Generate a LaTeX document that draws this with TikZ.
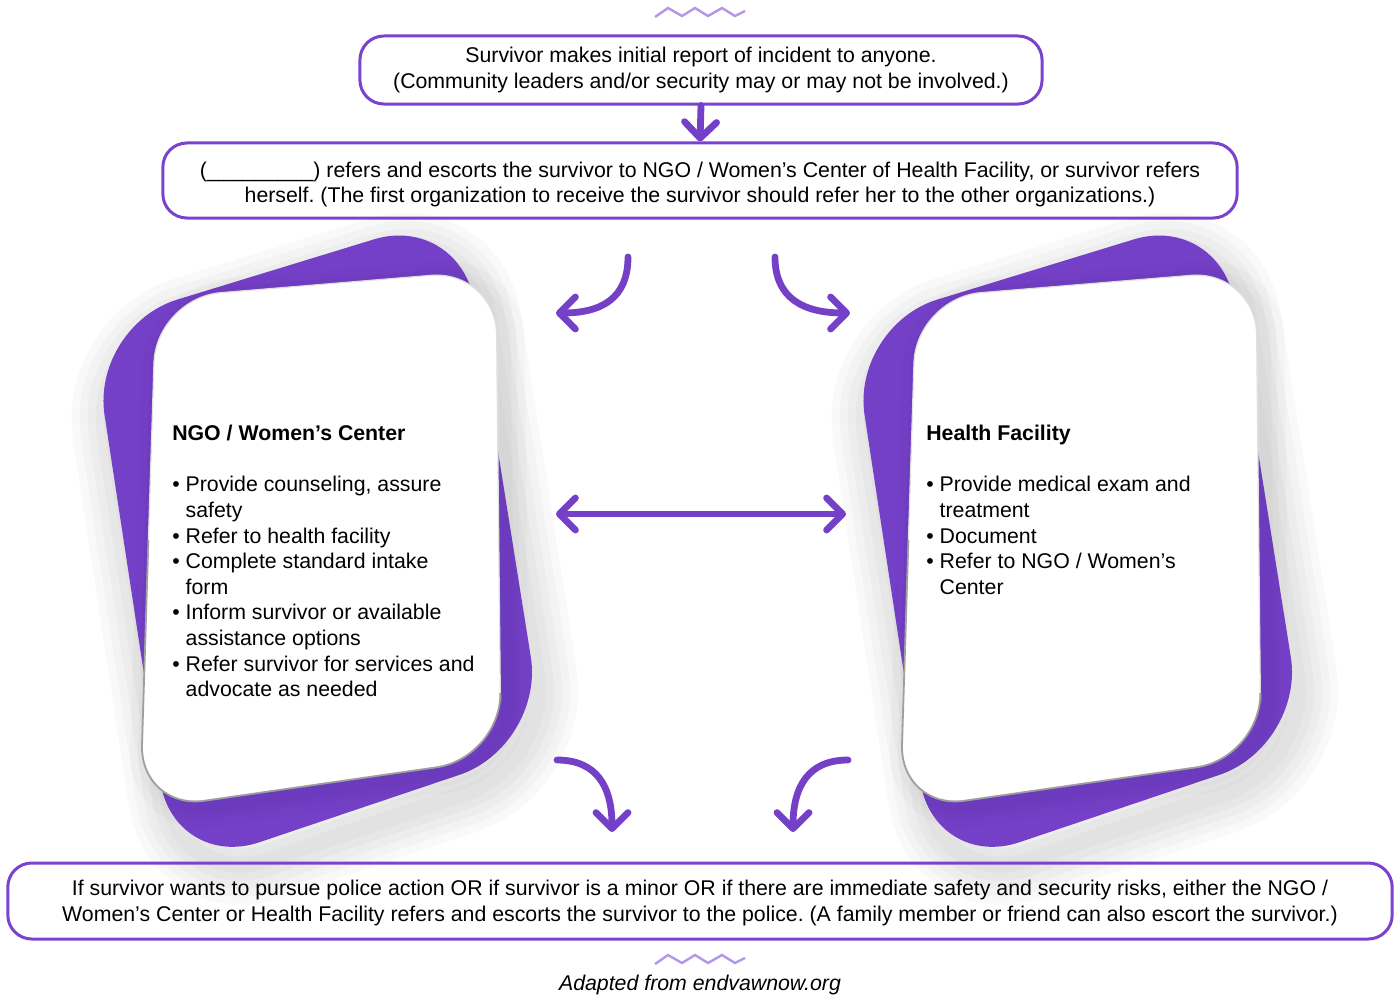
\documentclass[tikz,border=0pt]{standalone}
\usepackage{fontspec}
\setmainfont{Liberation Sans}
\usetikzlibrary{positioning, arrows.meta}
\frenchspacing

\definecolor{boxpurple}{HTML}{7A42CF}
\definecolor{cardpurple}{HTML}{7540C8}
\definecolor{wavepurple}{HTML}{B596E6}

\newcommand\bodyfont{\fontsize{15.15}{18.2}\selectfont}

\tikzset{
  flowbox/.style={draw=boxpurple, line width=0.075cm, rounded corners=0.6cm, inner sep=0pt},
  boxtext/.style={align=center, inner sep=0pt, font=\bodyfont},
  flowarrow/.style={draw=cardpurple, line width=0.17cm, line cap=round, line join=round},
  wave/.style={draw=wavepurple, line width=0.06cm},
  cardtext/.style={align=left, anchor=north west, inner sep=0pt, font=\bodyfont},
  >={Straight Barb[length=0.4cm, width=0.8cm, round]}
}

\begin{document}
\begin{tikzpicture}[x=0.025cm, y=-0.025cm]
  \useasboundingbox (0,0) rectangle (1400,994);

  % cards (purple back, white front)
  \foreach \dx in {0,760} {
    \begin{scope}[shift={(\dx,0)}]
      \foreach \w in {2.0,1.6,1.2,0.8,0.4}
        \draw[black, draw opacity=0.022, line width=\w cm, rounded corners=2.25cm]
          (99,344) -- (467,230) -- (551,764) -- (182,889) -- cycle;
      \fill[cardpurple, rounded corners=2.25cm] (91,326) -- (460,213) -- (545,746) -- (174,871) -- cycle;
      \foreach \w in {1.0,0.6,0.3}
        \draw[black, draw opacity=0.02, line width=\w cm, rounded corners=1.6cm]
          (164,304) -- (504,276) -- (509,764) -- (148,816) -- cycle;
      \fill[white, rounded corners=1.625cm] (156,298) -- (496,270) -- (501,758) -- (140,810) -- cycle;
      \draw[gray!25, line width=0.03cm, rounded corners=1.625cm] (148.4,540) -- (156,298) -- (496,270) -- (500.4,700);
      \draw[gray!75, line width=0.045cm, rounded corners=1.625cm] (148.4,540) -- (140,810) -- (501,758) -- (500.4,700);
    \end{scope}
  }

  % boxes
  \node[flowbox, minimum width=17.05cm, minimum height=1.7cm] (report) at (701,70) {};
  \node[boxtext] (reporttext) at (report.center)
    {Survivor makes initial report of incident to anyone.\\(Community leaders and/or security may or may not be involved.)};
  \node[flowbox, minimum width=26.85cm, minimum height=1.875cm] (refer) at (700,180.5) {};
  \node[boxtext] (refertext) at ([yshift=-0.1cm]refer.center)
    {(\_\_\_\_\_\_\_\_\_) refers and escorts the survivor to NGO / Women’s Center of Health Facility, or survivor refers\\herself. (The first organization to receive the survivor should refer her to the other organizations.)};
  \node[flowbox, minimum width=34.6cm, minimum height=1.9cm] (police) at (700,901) {};
  \node[boxtext] (policetext) at ([yshift=-0.05cm]police.center)
    {If survivor wants to pursue police action OR if survivor is a minor OR if there are immediate safety and security risks, either the NGO /\\Women’s Center or Health Facility refers and escorts the survivor to the police. (A family member or friend can also escort the survivor.)};

  % card texts
  \node[cardtext] (ngo) at (172,425)
    {\textbf{NGO / Women’s Center}\\[18.2pt]
     \textbullet\ Provide counseling, assure\\
     \hphantom{\textbullet\ }safety\\
     \textbullet\ Refer to health facility\\
     \textbullet\ Complete standard intake\\
     \hphantom{\textbullet\ }form\\
     \textbullet\ Inform survivor or available\\
     \hphantom{\textbullet\ }assistance options\\
     \textbullet\ Refer survivor for services and\\
     \hphantom{\textbullet\ }advocate as needed};
  \node[cardtext] (health) at (926,425)
    {\textbf{Health Facility}\\[18.2pt]
     \textbullet\ Provide medical exam and\\
     \hphantom{\textbullet\ }treatment\\
     \textbullet\ Document\\
     \textbullet\ Refer to NGO / Women’s\\
     \hphantom{\textbullet\ }Center};

  % arrows
  \coordinate (ul0) at (628,257); \coordinate (ul1) at (556,313);
  \coordinate (ur0) at (775,257); \coordinate (ur1) at (850,313);
  \coordinate (ml) at (556,514);  \coordinate (mr) at (846,514);
  \coordinate (ll0) at (557,760); \coordinate (ll1) at (612,832);
  \coordinate (lr0) at (848,760); \coordinate (lr1) at (793,832);

  \draw[flowarrow, ->] (report.south) -- (refer.north);
  \draw[flowarrow, ->] (ul0) .. controls (628,298) and (602,313) .. (ul1);
  \draw[flowarrow, ->] (ur0) .. controls (775,298) and (803,313) .. (ur1);
  \draw[flowarrow, <->] (ml) -- (mr);
  \draw[flowarrow, ->] (ll0) .. controls (597,760) and (612,787) .. (ll1);
  \draw[flowarrow, ->] (lr0) .. controls (808,760) and (793,787) .. (lr1);

  % waves
  \draw[wave] (655,17) -- (668,8) -- (682,16) -- (695,8) -- (708,16) -- (722,8) -- (735,16) -- (745,11);
  \draw[wave] (655,964) -- (668,955) -- (682,963) -- (695,955) -- (708,963) -- (722,955) -- (735,963) -- (745,958);

  \node[font=\bodyfont\itshape] (source) at (700,985) {Adapted from endvawnow.org};
\end{tikzpicture}
\end{document}
